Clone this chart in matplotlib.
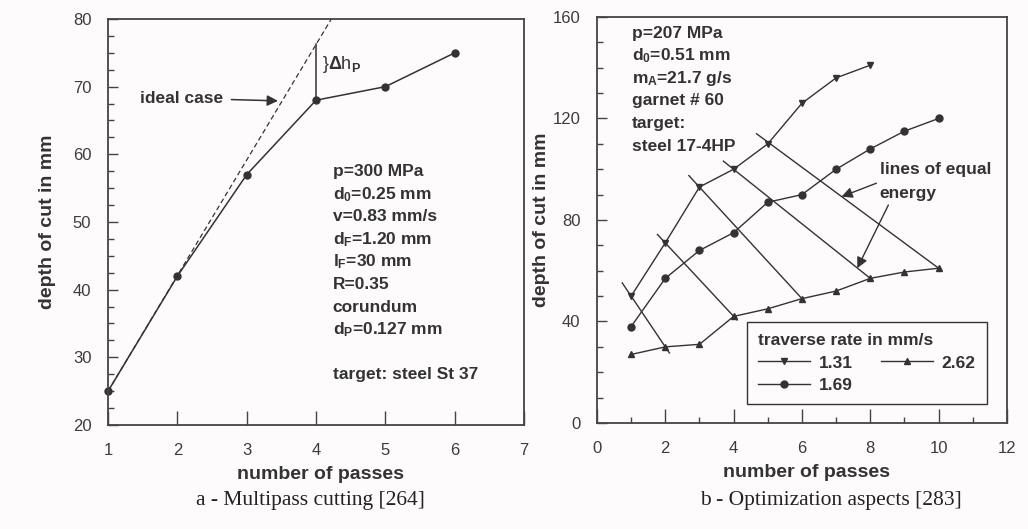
import matplotlib
matplotlib.use("Agg")
import matplotlib.pyplot as plt
from matplotlib.ticker import MultipleLocator

plt.rcParams['font.family'] = ['Liberation Sans', 'DejaVu Sans']
plt.rcParams['mathtext.fontset'] = 'custom'
plt.rcParams['mathtext.rm'] = 'Liberation Sans:bold'
plt.rcParams['mathtext.it'] = 'Liberation Sans:bold'
plt.rcParams['mathtext.bf'] = 'Liberation Sans:bold'

# --- panel a: multipass cutting ---
passes_a = [1, 2, 3, 4, 5, 6]
depth_a = [25, 42, 57, 68, 70, 75]
ideal_x = [1, 4.22]
ideal_y = [25, 80]
params_a = ["p=300 MPa", "d$_0$=0.25 mm", "v=0.83 mm/s", "d$_F$=1.20 mm",
            "l$_F$=30 mm", "R=0.35", "corundum", "d$_P$=0.127 mm", "",
            "target: steel St 37"]

# --- panel b: optimization aspects ---
passes_131 = [1, 2, 3, 4, 5, 6, 7, 8]
depth_131 = [50, 71, 93, 100, 110, 126, 136, 141]
passes_169 = [1, 2, 3, 4, 5, 6, 7, 8, 9, 10]
depth_169 = [38, 57, 68, 75, 87, 90, 100, 108, 115, 120]
passes_262 = [1, 2, 3, 4, 5, 6, 7, 8, 9, 10]
depth_262 = [27, 30, 31, 42, 45, 49, 52, 57, 59.5, 61]
# lines of equal energy (start / end points)
eq_x0 = [0.74, 1.77, 2.69, 3.70, 4.67]
eq_y0 = [55.2, 74.3, 97.5, 103.2, 114.0]
eq_x1 = [2.12, 4.10, 6.00, 8.00, 10.00]
eq_y1 = [27.6, 40.6, 49.0, 57.0, 61.0]
params_b = ["p=207 MPa", "d$_0$=0.51 mm", "m$_A$=21.7 g/s", "garnet # 60",
            "target:", "steel 17-4HP"]

ink = '#333333'
bg = '#fdfbfc'
fs = 12.5

fig = plt.figure(figsize=(10.28, 5.29), dpi=100, facecolor=bg)
axa = fig.add_axes([0.1051, 0.1966, 0.4047, 0.7675])
axb = fig.add_axes([0.5807, 0.2004, 0.3988, 0.7675])

for ax in (axa, axb):
    ax.set_facecolor(bg)
    for s in ax.spines.values():
        s.set_color('#444444')
        s.set_linewidth(1.3)
    ax.tick_params(which='both', direction='in', colors='#444444',
                   labelcolor='#3c3c3c', labelsize=12, top=False, right=False)
    ax.tick_params(axis='x', which='major', length=10, width=1, pad=13)
    ax.tick_params(axis='y', which='major', length=7, width=1, pad=12)
    ax.tick_params(which='minor', length=4, width=1)
    ax.set_xlabel('number of passes', fontsize=14, fontweight='bold', color=ink)
    ax.set_ylabel('depth of cut in mm', fontsize=14, fontweight='bold', color=ink)

# panel a
axa.set_xlim(1, 7)
axa.set_ylim(20, 80)
axa.xaxis.set_major_locator(MultipleLocator(1))
axa.yaxis.set_major_locator(MultipleLocator(10))
axa.yaxis.set_minor_locator(MultipleLocator(2.5))
axa.plot(ideal_x, ideal_y, color=ink, lw=0.9, ls=(0, (4, 2.5)))
axa.plot(passes_a, depth_a, color=ink, lw=1.1, marker='o', ms=5, clip_on=False)
axa.plot([passes_a[3], passes_a[3]], [depth_a[3], 25 + 3 * 17.08], color=ink, lw=1.1)
axa.text(4.08, 73.3, r'}$\Delta$h$_P$', fontsize=13, color=ink, va='center')
axa.annotate('ideal case', xy=(3.45, 67.9), xytext=(1.46, 68.3),
             fontsize=fs, fontweight='bold', color=ink, va='center',
             arrowprops=dict(arrowstyle='-|>', color=ink, lw=1.1,
                             mutation_scale=16, shrinkA=4, shrinkB=0))
for i, line in enumerate(params_a):
    axa.text(4.24, 57.4 - i * 3.33, line, fontsize=fs, fontweight='bold',
             color=ink, va='center')
axa.xaxis.set_label_coords(0.51, -0.10)
axa.yaxis.set_label_coords(-0.125, 0.5)

# panel b
axb.set_xlim(0, 12)
axb.set_ylim(0, 160)
axb.xaxis.set_major_locator(MultipleLocator(2))
axb.xaxis.set_minor_locator(MultipleLocator(1))
axb.yaxis.set_major_locator(MultipleLocator(40))
axb.yaxis.set_minor_locator(MultipleLocator(10))
for x0, y0, x1, y1 in zip(eq_x0, eq_y0, eq_x1, eq_y1):
    axb.plot([x0, x1], [y0, y1], color=ink, lw=1.0)
axb.plot(passes_131, depth_131, color=ink, lw=1.0, marker='v', ms=5, label='1.31')
axb.plot(passes_169, depth_169, color=ink, lw=1.0, marker='o', ms=5, label='1.69')
axb.plot(passes_262, depth_262, color=ink, lw=1.0, marker='^', ms=5, label='2.62')
for i, line in enumerate(params_b):
    axb.text(1.03, 153.6 - i * 8.9, line, fontsize=fs, fontweight='bold',
             color=ink, va='center')
axb.text(8.28, 99.7, 'lines of equal', fontsize=fs, fontweight='bold',
         color=ink, va='center')
axb.text(8.28, 90.6, 'energy', fontsize=fs, fontweight='bold',
         color=ink, va='center')
axb.annotate('', xy=(7.16, 89.2), xytext=(8.18, 94.5),
             arrowprops=dict(arrowstyle='-|>', color=ink, lw=1.0,
                             mutation_scale=16, shrinkA=0, shrinkB=0))
axb.annotate('', xy=(7.62, 61.0), xytext=(8.53, 85.9),
             arrowprops=dict(arrowstyle='-|>', color=ink, lw=1.0,
                             mutation_scale=16, shrinkA=0, shrinkB=0))
leg = axb.legend(title='traverse rate in mm/s', ncol=2, loc='lower left',
                 bbox_to_anchor=(0.366, 0.047), borderaxespad=0,
                 alignment='left',
                 fancybox=False, edgecolor=ink, framealpha=1, facecolor=bg,
                 handlelength=3.0, handletextpad=0.5, columnspacing=1.6,
                 labelspacing=0.4, borderpad=0.65,
                 prop={'size': fs, 'weight': 'bold'},
                 title_fontproperties={'size': fs, 'weight': 'bold'})
leg.get_frame().set_linewidth(1.0)
for t in leg.get_texts():
    t.set_color(ink)
leg.get_title().set_color(ink)
axb.xaxis.set_label_coords(0.51, -0.10)
axb.yaxis.set_label_coords(-0.115, 0.5)

fig.text(0.3016, 0.0548, 'a - Multipass cutting [264]', family='Liberation Serif',
         fontsize=15.5, color='#222222', ha='center', va='center')
fig.text(0.808, 0.0548, 'b - Optimization aspects [283]', family='Liberation Serif',
         fontsize=15.5, color='#222222', ha='center', va='center')

fig.savefig('out.png', dpi=100, facecolor=bg)
